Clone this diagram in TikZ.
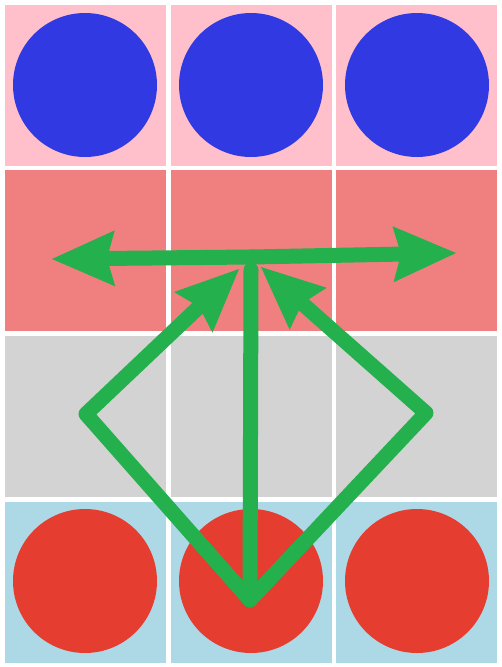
\documentclass[tikz,border=0pt]{standalone}
\usepackage{tikz}
\usetikzlibrary{arrows.meta, positioning}
\definecolor{cellpink}{RGB}{255,192,203}
\definecolor{cellcoral}{RGB}{240,128,128}
\definecolor{cellgray}{RGB}{211,211,211}
\definecolor{cellblue}{RGB}{173,216,230}
\definecolor{dotblue}{RGB}{48,57,226}
\definecolor{dotred}{RGB}{229,61,48}
\definecolor{arrowgreen}{RGB}{35,176,77}
\tikzset{
    cell/.style={rectangle, draw=none, minimum size=161pt, inner sep=0pt},
    dot/.style={circle, draw=none, minimum size=144pt, inner sep=0pt},
    flow/.style={draw=arrowgreen, line width=15pt, line cap=round, line join=round},
    arrow/.style={flow, -{Stealth[length=63pt, width=56pt, inset=8pt, line width=0pt]}}
}
\begin{document}
\begin{tikzpicture}[x=1pt, y=-1pt]
    \fill[white] (0,0) rectangle (502,667);
    \useasboundingbox (0,0) rectangle (502,667);
        % Grid of cells
        \node[cell, fill=cellpink] (c11) at (85.5,85.5) {};
        \node[cell, fill=cellpink] (c12) at (251,85.5) {};
        \node[cell, fill=cellpink] (c13) at (416.5,85.5) {};
        \node[cell, fill=cellcoral] (c21) at (85.5,250.5) {};
        \node[cell, fill=cellcoral] (c22) at (251,250.5) {};
        \node[cell, fill=cellcoral] (c23) at (416.5,250.5) {};
        \node[cell, fill=cellgray] (c31) at (85.5,416.5) {};
        \node[cell, fill=cellgray] (c32) at (251,416.5) {};
        \node[cell, fill=cellgray] (c33) at (416.5,416.5) {};
        \node[cell, fill=cellblue] (c41) at (85.5,582) {};
        \node[cell, fill=cellblue] (c42) at (251,582) {};
        \node[cell, fill=cellblue] (c43) at (416.5,582) {};

        % Dots
        \node[dot, fill=dotblue] (b1) at (85,85) {};
        \node[dot, fill=dotblue] (b2) at (251,85) {};
        \node[dot, fill=dotblue] (b3) at (417,85) {};
        \node[dot, fill=dotred] (r1) at (85,581) {};
        \node[dot, fill=dotred] (r2) at (251,581) {};
        \node[dot, fill=dotred] (r3) at (417,581) {};

        % Arrow points
        \coordinate (bot) at (250,600);
        \coordinate (top) at (251,270);
        \coordinate (mid) at (251,257);
        \coordinate (lc) at (86,414);
        \coordinate (rc) at (426,413);
        \coordinate (lt) at (239,269);
        \coordinate (rt) at (261,267);
        \coordinate (le) at (52,259);
        \coordinate (re) at (456,253);

        \draw[flow] (bot) -- (top);
        \draw[arrow] (bot) -- (lc) -- (lt);
        \draw[arrow] (bot) -- (rc) -- (rt);
        \draw[arrow] (mid) -- (le);
        \draw[arrow] (mid) -- (re);
    \end{tikzpicture}
\end{document}
